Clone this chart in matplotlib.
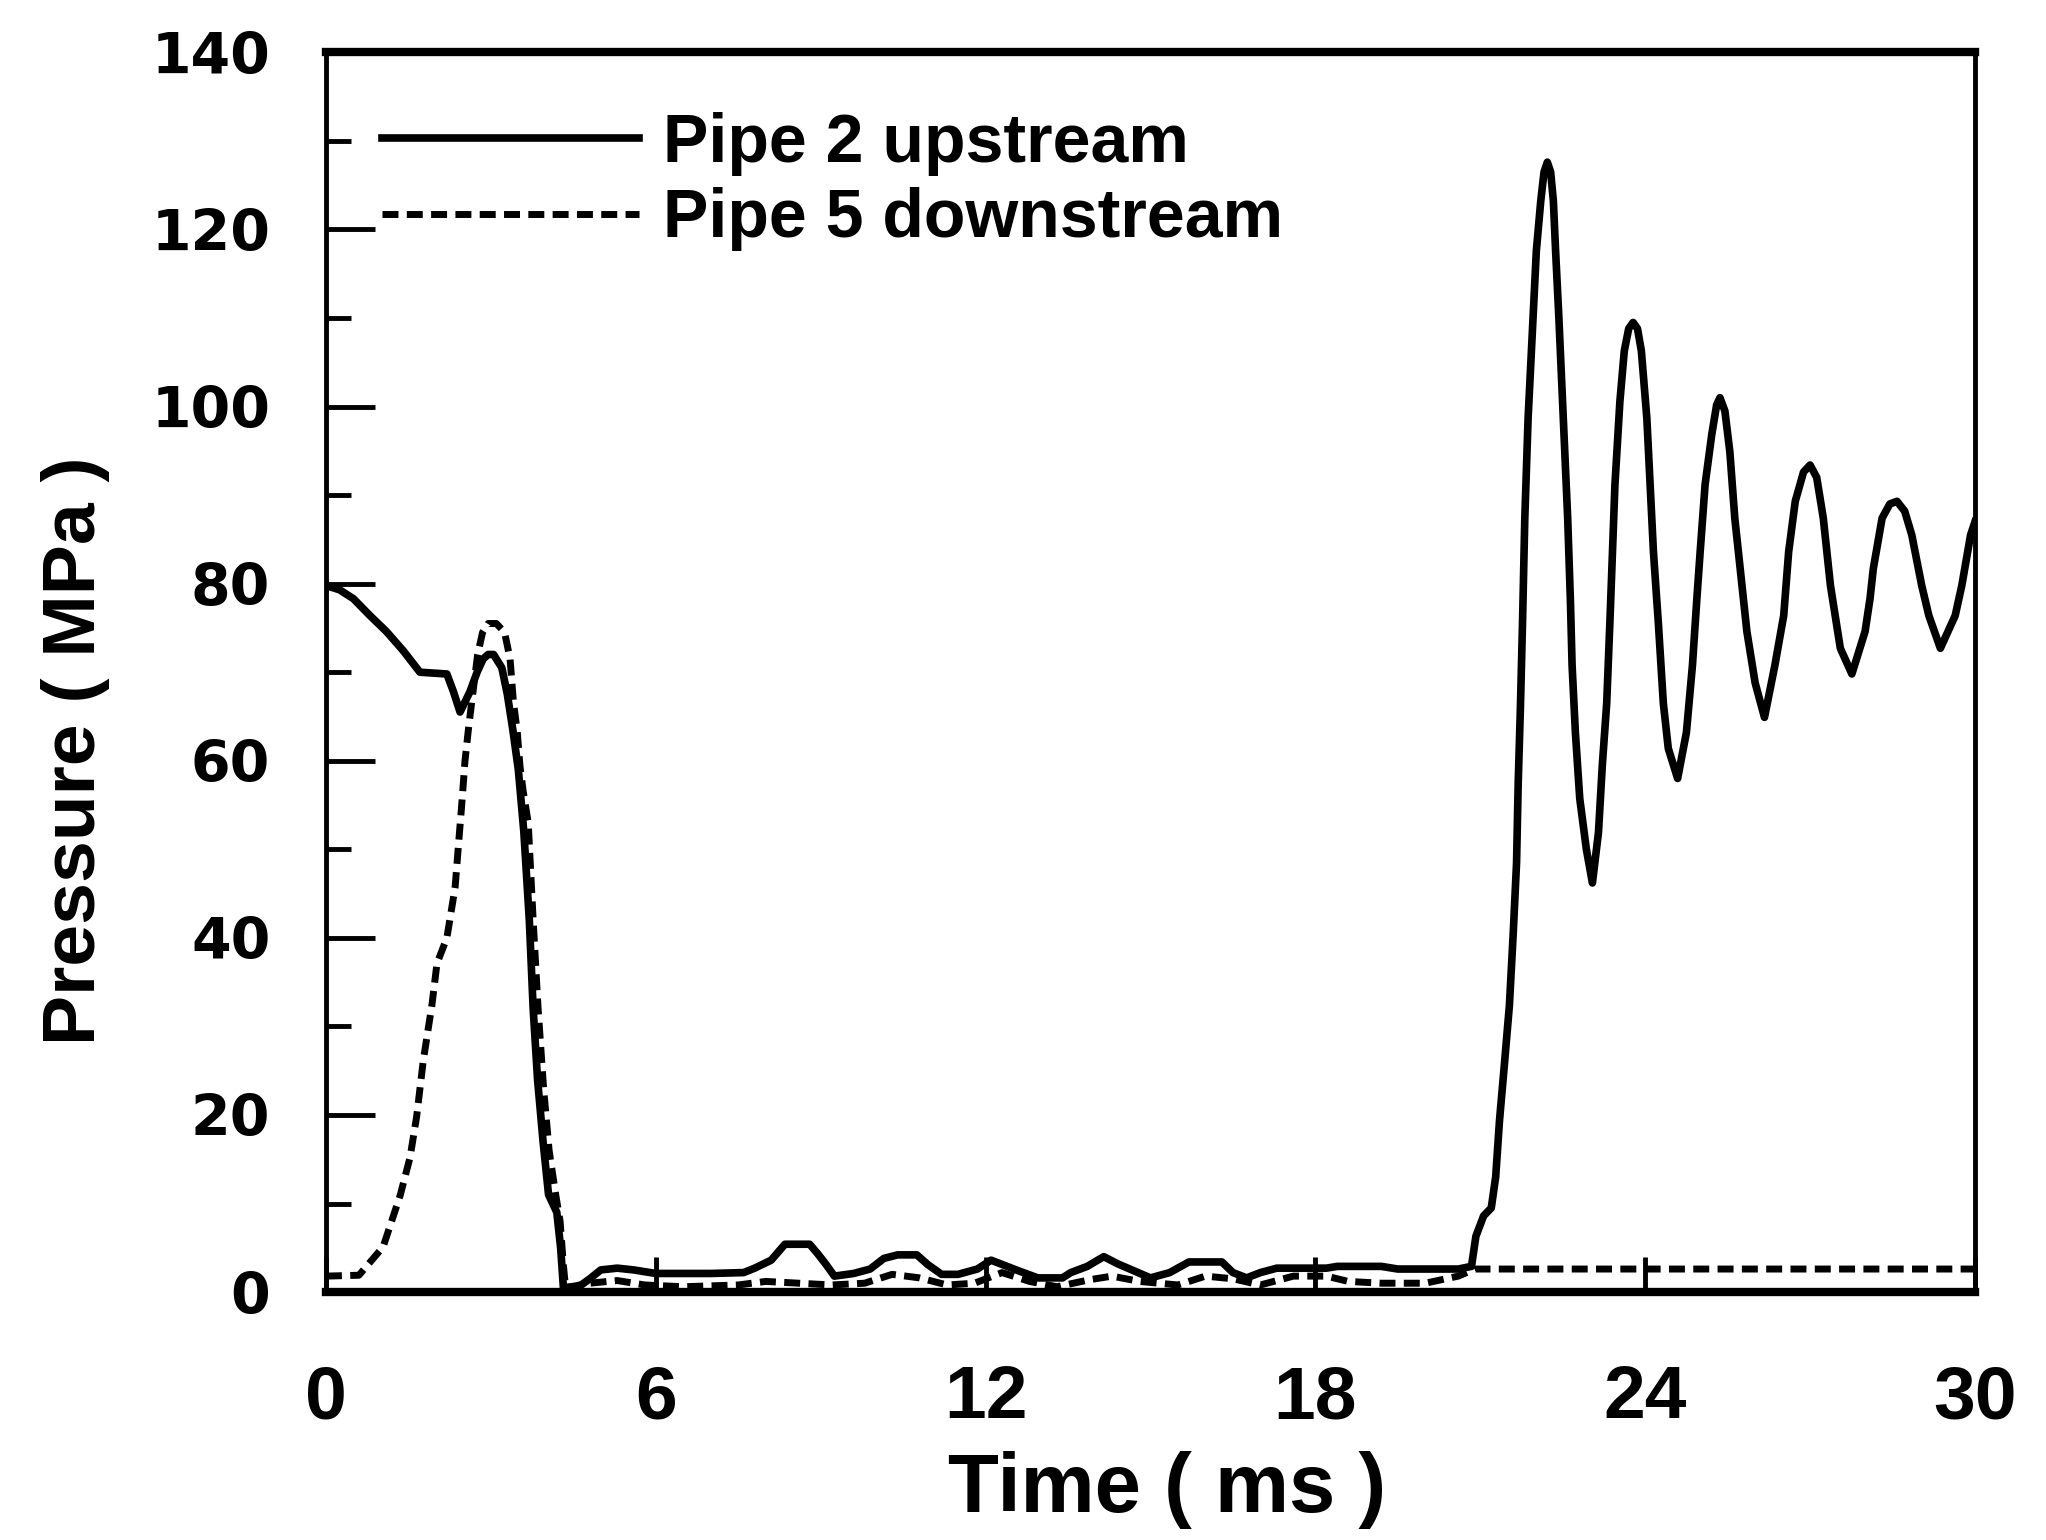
import matplotlib
matplotlib.use("Agg")
import matplotlib.pyplot as plt

plt.rcParams['font.family'] = ['Liberation Sans', 'DejaVu Sans']

# Pipe 2 upstream (solid) - time in ms, pressure in MPa
t_up = [0.0, 0.25, 0.5, 0.8, 1.1, 1.41, 1.71, 2.2, 2.32, 2.44, 2.62, 2.75, 2.86, 2.95, 3.05,
        3.2, 3.3, 3.4, 3.5, 3.6, 3.7, 3.77, 3.85, 3.95, 4.05, 4.2, 4.27, 4.32,
        4.6, 4.8, 5.0, 5.3, 5.6, 6.0, 7.0, 7.6, 7.8, 8.1, 8.35, 8.8, 8.95, 9.1, 9.25,
        9.6, 9.9, 10.15, 10.4, 10.75, 10.95, 11.2, 11.5, 11.85, 12.1, 12.35, 12.6,
        12.95, 13.4, 13.55, 13.85, 14.15, 14.4, 14.7, 15.0, 15.35, 15.7, 16.3, 16.5,
        16.75, 17.0, 17.3, 18.2, 18.4, 19.2, 19.5, 20.6,
        20.84, 20.92, 21.06, 21.2, 21.28, 21.35, 21.44, 21.53, 21.6, 21.66, 21.69,
        21.73, 21.77, 21.81, 21.87, 21.96, 22.02, 22.1, 22.16, 22.22, 22.28, 22.33,
        22.37, 22.43, 22.51, 22.59, 22.64, 22.67, 22.73, 22.81, 22.93, 23.04, 23.15,
        23.22, 23.3, 23.36, 23.45, 23.54, 23.62, 23.7, 23.78, 23.86, 23.93, 24.03,
        24.09, 24.15, 24.24, 24.33, 24.42, 24.59, 24.75, 24.86, 24.94, 25.0, 25.09,
        25.21, 25.3, 25.36, 25.45, 25.54, 25.63, 25.76, 25.85, 26.0, 26.17, 26.36,
        26.52, 26.61, 26.73, 26.88, 27.0, 27.12, 27.24, 27.37, 27.55, 27.76, 28.0,
        28.09, 28.15, 28.31, 28.45, 28.58, 28.72, 28.85, 29.03, 29.16, 29.37, 29.64,
        29.76, 29.92, 30.0]
p_up = [79.8, 79.3, 78.3, 76.4, 74.6, 72.4, 70.0, 69.8, 67.8, 65.5, 67.8, 70.0, 71.5, 72.0, 72.0,
        70.5, 67.5, 63.5, 59.0, 52.0, 42.0, 32.0, 24.0, 17.0, 11.0, 9.0, 5.0, 0.5,
        0.6, 1.5, 2.5, 2.7, 2.5, 2.1, 2.1, 2.2, 2.7, 3.6, 5.4, 5.4, 4.3, 3.1, 1.8,
        2.1, 2.6, 3.8, 4.2, 4.2, 3.1, 2.0, 2.0, 2.6, 3.6, 3.0, 2.4,
        1.6, 1.6, 2.2, 2.9, 4.0, 3.2, 2.4, 1.6, 2.2, 3.4, 3.4, 2.2,
        1.6, 2.2, 2.7, 2.7, 2.9, 2.9, 2.6, 2.6,
        2.9, 6.3, 8.6, 9.5, 13.0, 19.4, 25.8, 32.4, 40.6, 48.5, 57.5,
        66.0, 76.0, 87.4, 98.7, 110.0, 117.6, 123.2, 126.5, 127.6, 126.5, 123.2,
        117.6, 110.0, 98.7, 87.4, 78.0, 70.8, 63.2, 55.7, 50.0, 46.2, 51.9,
        59.5, 66.5, 76.0, 91.2, 100.6, 106.3, 108.8, 109.5, 108.8, 106.3, 98.7,
        91.2, 83.6, 75.5, 66.5, 61.4, 58.0, 63.2, 70.8, 78.3, 83.6, 91.2,
        96.8, 100.2, 101.0, 99.5, 94.9, 87.4, 79.8, 74.6, 68.8, 64.9, 70.8,
        76.4, 83.6, 89.3, 92.6, 93.4, 92.0, 87.4, 79.8, 72.7, 69.8, 74.6,
        78.3, 81.7, 87.4, 89.0, 89.3, 88.2, 85.5, 79.8, 76.4, 72.7, 76.4,
        79.8, 85.5, 87.0]

# Pipe 5 downstream (dashed)
t_down = [0.0, 0.6, 1.04, 1.35, 1.53, 1.65, 1.77, 1.93, 2.02, 2.2, 2.35, 2.41, 2.47, 2.53,
          2.6, 2.68, 2.76, 2.85, 2.95, 3.1, 3.25, 3.35, 3.41, 3.48, 3.53, 3.59, 3.68,
          3.77, 3.86, 3.96, 4.06, 4.18, 4.26, 4.32, 4.36,
          4.8, 5.3, 5.8, 6.5, 7.5, 8.0, 8.6, 9.2, 9.8, 10.3, 10.8, 11.3, 11.8, 12.3,
          12.8, 13.3, 13.9, 14.3, 14.8, 15.5, 16.0, 16.5, 17.0, 17.6, 18.2, 18.6,
          19.2, 20.0, 20.6, 20.9, 30.0]
p_down = [1.8, 1.9, 5.1, 10.9, 15.2, 19.8, 26.1, 32.5, 37.1, 40.0, 45.7, 50.4, 55.0, 60.0,
          64.0, 68.0, 72.0, 74.5, 75.5, 75.5, 74.5, 71.5, 66.7, 63.3, 59.4, 56.5, 53.0,
          42.0, 32.0, 23.0, 16.0, 11.0, 8.0, 3.0, 0.5,
          1.0, 1.3, 0.8, 0.6, 0.8, 1.2, 1.0, 0.8, 1.0, 2.0, 1.6, 0.8, 1.0, 2.2,
          1.2, 0.6, 1.4, 1.8, 1.2, 0.8, 1.8, 1.5, 0.8, 1.8, 1.8, 1.2,
          1.0, 1.0, 1.8, 2.6, 2.6]

x_ticks = [0, 6, 12, 18, 24, 30]
y_ticks = [0, 20, 40, 60, 80, 100, 120, 140]
y_minor = [10, 30, 50, 70, 90, 110, 130]

fig = plt.figure(figsize=(20.46, 15.40), dpi=100)
ax = fig.add_axes([0.1593, 0.161, 0.806, 0.805])

ax.plot(t_up, p_up, color='black', linewidth=5.5, solid_joinstyle='round',
        label='Pipe 2 upstream')
ax.plot(t_down, p_down, color='black', linewidth=5.0, dashes=(2.3, 1.2),
        label='Pipe 5 downstream')

ax.set_xlim(0, 30)
ax.set_ylim(0, 140)
ax.set_xticks(x_ticks)
ax.set_yticks(y_ticks)
ax.set_yticks(y_minor, minor=True)

ax.tick_params(axis='y', which='major', direction='in', length=35, width=3.5, pad=40)
ax.tick_params(axis='y', which='minor', direction='in', length=18, width=3.5)
ax.tick_params(axis='x', which='major', direction='in', length=25, width=3.5, pad=52)
for lab in ax.get_yticklabels():
    lab.set_fontfamily('DejaVu Sans')
    lab.set_fontweight('bold')
    lab.set_fontsize(41)
for lab in ax.get_xticklabels():
    lab.set_fontweight('bold')
    lab.set_fontsize(54)

for side in ['top', 'bottom']:
    ax.spines[side].set_linewidth(6)
for side in ['left', 'right']:
    ax.spines[side].set_linewidth(3.5)

ax.set_xlabel('Time ( ms )', fontsize=60, fontweight='bold')
ax.set_ylabel('Pressure ( MPa )', fontsize=54, fontweight='bold')
ax.xaxis.set_label_coords(0.51, -0.128)
ax.yaxis.set_label_coords(-0.131, 0.437)

ax.legend(loc='upper left', bbox_to_anchor=(0.034, 0.952), frameon=False,
          prop={'weight': 'bold', 'size': 49},
          handlelength=3.78, handletextpad=0.35, labelspacing=0.17,
          borderpad=0, borderaxespad=0)

fig.savefig('out.png', dpi=100)
